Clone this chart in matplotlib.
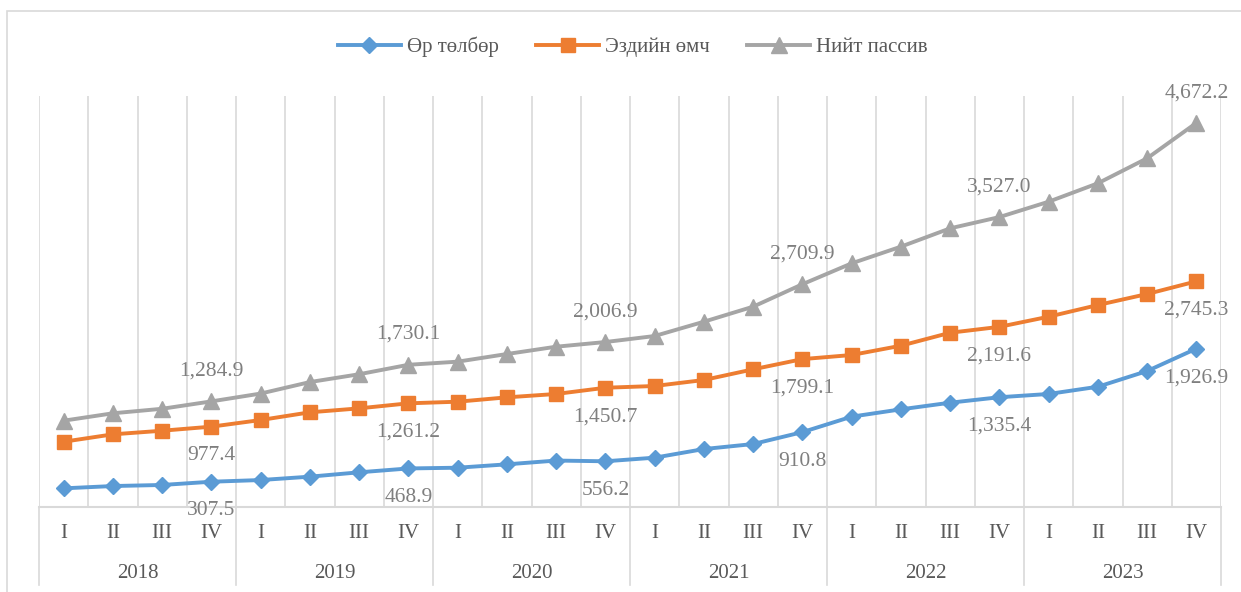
import numpy as np
import matplotlib
matplotlib.use("Agg")
import matplotlib.pyplot as plt
from matplotlib.patches import Rectangle

# Quarterly data, 2018-2023 (billion)
years = ["2018", "2019", "2020", "2021", "2022", "2023"]
quarters = ["I", "II", "III", "IV"]

debt = [227, 255, 268, 307.5,
        328, 369, 422, 468.9,
        478, 519, 565, 556.2,
        600, 705, 766, 910.8,
        1099, 1188, 1269, 1335.4,
        1375, 1463, 1654, 1926.9]
equity = [794, 884, 928, 977.4,
          1058, 1152, 1200, 1261.2,
          1281, 1334, 1375, 1450.7,
          1472, 1545, 1675, 1799.1,
          1849, 1962, 2120, 2191.6,
          2315, 2457, 2591, 2745.3]
total = [1050, 1140, 1195, 1284.9,
         1380, 1520, 1615, 1730.1,
         1768, 1861, 1950, 2006.9,
         2080, 2254, 2437, 2709.9,
         2964, 3167, 3390, 3527.0,
         3714, 3938, 4242, 4672.2]

series_names = ["Өр төлбөр", "Эздийн өмч", "Нийт пассив"]
colors = ["#5B9BD5", "#ED7D31", "#A5A5A5"]

plt.rcParams['font.family'] = 'serif'
plt.rcParams['font.serif'] = ['Liberation Serif', 'DejaVu Serif']

W, H = 1241, 592
fig = plt.figure(figsize=(W / 100, H / 100), dpi=100)

# Outer chart border
fig.patches.append(Rectangle((7 / W, -0.5), 2, (1 - 11 / H) + 0.5, transform=fig.transFigure,
                             fill=False, edgecolor="#D9D9D9", linewidth=1.2))

left, right, bottom, top = 39 / W, 1221 / W, (H - 507) / H, (H - 96) / H
ax = fig.add_axes([left, bottom, right - left, top - bottom])

x = np.arange(len(debt))
grid_c = "#D9D9D9"
label_c = "#7F7F7F"
tick_c = "#595959"

for xb in np.arange(-0.5, len(debt), 1):
    ax.axvline(xb, color=grid_c, linewidth=1.2, zorder=0)

ax.plot(x, debt, color=colors[0], linewidth=2.8, marker="D", markersize=8, label=series_names[0])
ax.plot(x, equity, color=colors[1], linewidth=2.8, marker="s", markersize=10, label=series_names[1])
ax.plot(x, total, color=colors[2], linewidth=2.8, marker="^", markersize=11, label=series_names[2])

ax.set_xlim(-0.5, len(debt) - 0.5)
ax.set_ylim(0, 5000)
ax.set_xticks([])
ax.set_yticks([])
for s in ["left", "right", "top"]:
    ax.spines[s].set_visible(False)
ax.spines["bottom"].set_color(grid_c)
ax.spines["bottom"].set_linewidth(1.5)

# Data labels at IV quarter
for i in range(3, len(debt), 4):
    ax.annotate(f"{total[i]:,.1f}", (x[i], total[i]), xytext=(0, 15), textcoords="offset points",
                ha="center", va="bottom", fontsize=15.5, color=label_c)
    ax.annotate(f"{equity[i]:,.1f}", (x[i], equity[i]), xytext=(0, -14), textcoords="offset points",
                ha="center", va="top", fontsize=15.5, color=label_c)
    ax.annotate(f"{debt[i]:,.1f}", (x[i], debt[i]), xytext=(0, -14), textcoords="offset points",
                ha="center", va="top", fontsize=15.5, color=label_c)

# Two-level category axis
tr = ax.get_xaxis_transform()
ax_h = 507 - 96
for i in range(len(debt)):
    ax.text(x[i], -(534 - 507) / ax_h, quarters[i % 4], transform=tr, ha="center", va="center",
            fontsize=15, color=tick_c)
for j, yr in enumerate(years):
    ax.text(j * 4 + 1.5, -(573 - 507) / ax_h, yr, transform=tr,
            ha="center", va="center", fontsize=15, color=tick_c)
for xb in np.arange(-0.5, len(debt), 4):
    ax.plot([xb, xb], [0, -(585 - 507) / ax_h], transform=tr, color=grid_c, linewidth=1.2, clip_on=False)

fig.legend(loc="center", bbox_to_anchor=(633 / W, 1 - 47 / H), ncol=3, frameon=False,
           fontsize=15, labelcolor=tick_c, handlelength=3, columnspacing=1.8, handletextpad=0.3)

fig.savefig("out.png", dpi=100)
